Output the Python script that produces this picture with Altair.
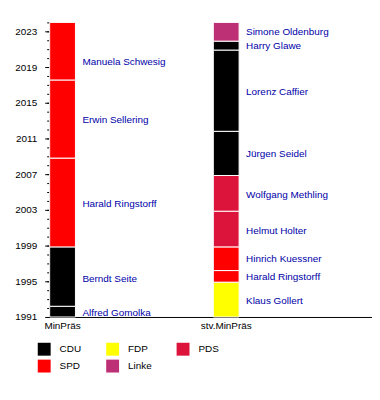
import altair as alt
import pandas as pd

# Ministerpräsident
mp_names = ["Alfred Gomolka", "Berndt Seite", "Harald Ringstorff", "Erwin Sellering", "Manuela Schwesig"]
mp_party = ["CDU", "CDU", "SPD", "SPD", "SPD"]
mp_start = [1991.0, 1992.2, 1998.85, 2008.8, 2017.55]
mp_end = [1992.2, 1998.85, 2008.8, 2017.55, 2024.0]
mp_label_y = [1991.4, 1995.3, 2003.7, 2013.1, 2019.6]

# stellv. Ministerpräsident
dp_names = ["Klaus Gollert", "Harald Ringstorff", "Hinrich Kuessner", "Helmut Holter",
            "Wolfgang Methling", "Jürgen Seidel", "Lorenz Caffier", "Harry Glawe", "Simone Oldenburg"]
dp_party = ["FDP", "SPD", "SPD", "PDS", "PDS", "CDU", "CDU", "CDU", "Linke"]
dp_start = [1991.0, 1994.9, 1996.2, 1998.85, 2002.85, 2006.85, 2011.8, 2020.9, 2021.9]
dp_end = [1994.9, 1996.2, 1998.85, 2002.85, 2006.85, 2011.8, 2020.9, 2021.9, 2024.0]
dp_label_y = [1992.75, 1995.45, 1997.5, 2000.65, 2004.65, 2009.2, 2016.25, 2021.3, 2022.9]

columns = ["MinPräs", "stv.MinPräs"]
# legend is filled column by column (2 rows)
parties = ["CDU", "SPD", "FDP", "Linke", "PDS"]
party_colors = ["#000000", "#FF0000", "#FFFF00", "#BE3075", "#DC143C"]

year_major = list(range(1991, 2024, 4))
year_minor = list(range(1991, 2025))

rows = []
for n, p, s, e, ly in zip(mp_names, mp_party, mp_start, mp_end, mp_label_y):
    rows.append(dict(col=columns[0], name=n, party=p, start=s, end=e, ly=ly))
for n, p, s, e, ly in zip(dp_names, dp_party, dp_start, dp_end, dp_label_y):
    rows.append(dict(col=columns[1], name=n, party=p, start=s, end=e, ly=ly))
df = pd.DataFrame(rows)

FONT = "Liberation Sans"

xscale = alt.Scale(domain=columns, paddingInner=0.8424, paddingOuter=0.406, align=0)
yscale = alt.Scale(domain=[1991, 2024], nice=False, zero=False)

x_axis = alt.Axis(title=None, ticks=False, labelAngle=0, labelPadding=4,
                  domainColor="#000000", labelColor="#000000",
                  labelFont=FONT, labelFontSize=10)

bars = alt.Chart(df).mark_bar(stroke="white", strokeWidth=1).encode(
    x=alt.X("col:N", scale=xscale, sort=columns, axis=x_axis),
    y=alt.Y("start:Q", scale=yscale,
            axis=alt.Axis(title=None, values=year_major, format="d", tickSize=5,
                          labelPadding=8, grid=False, domainColor="#000000",
                          tickColor="#000000", labelColor="#000000",
                          labelFont=FONT, labelFontSize=10)),
    y2="end:Q",
    color=alt.Color("party:N", scale=alt.Scale(domain=parties, range=party_colors),
                    legend=alt.Legend(title=None, orient="none", legendX=-12, legendY=323,
                                      columns=3, symbolType="square", symbolSize=169,
                                      symbolStrokeWidth=0, labelFont=FONT, labelFontSize=10,
                                      labelColor="#000000", labelOffset=9,
                                      columnPadding=25, rowPadding=4, padding=0)),
)

minor = alt.Chart(pd.DataFrame({"year": year_minor})).mark_point(opacity=0).encode(
    y=alt.Y("year:Q", scale=yscale,
            axis=alt.Axis(title=None, values=year_minor, labels=False, tickSize=3,
                          domain=False, grid=False, tickColor="#000000", orient="left")),
)

labels = alt.Chart(df).mark_text(align="left", baseline="middle", dx=20,
                                 font=FONT, fontSize=10, color="#0000a8").encode(
    x=alt.X("col:N", scale=xscale, sort=columns, axis=x_axis),
    y=alt.Y("ly:Q", scale=yscale, axis=None),
    text="name:N",
)

chart = alt.layer(bars, labels, minor).resolve_axis(y="independent").properties(
    width=325, height=297,
    autosize=alt.AutoSizeParams(type="none"),
    padding={"left": 42, "top": 13, "right": 0, "bottom": 60},
).configure_view(stroke=None)

chart.save("out.html", embed_options={"renderer": "svg", "actions": False})
